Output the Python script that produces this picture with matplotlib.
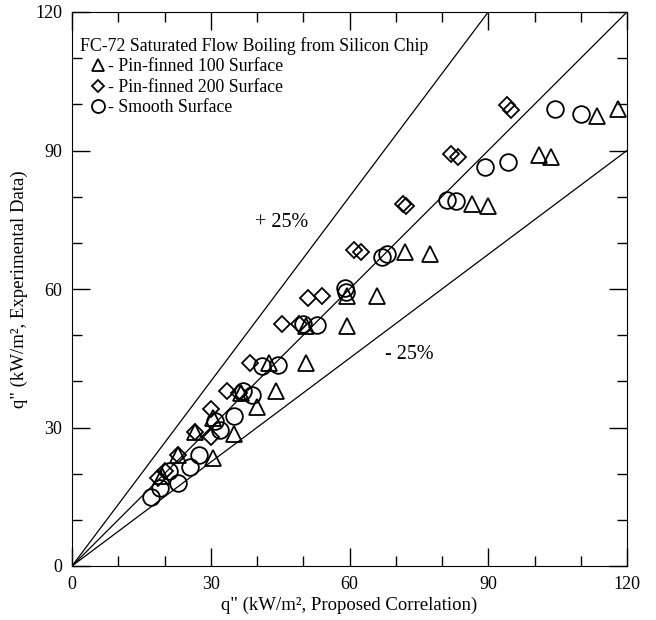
import numpy as np
import matplotlib
matplotlib.use("Agg")
import matplotlib.pyplot as plt

plt.rcParams["font.family"] = ["Liberation Serif", "DejaVu Serif"]

# Pin-finned 100 surface (triangles)
pf100_x = [19.5, 23, 26.5, 30.5, 30.5, 35, 36.5, 40, 42.5, 44, 50.5, 50.5, 59.5,
           59.5, 66, 72, 77.5, 86.5, 90, 101, 103.5, 113.5, 118]
pf100_y = [19.5, 24, 29, 23.5, 32, 28.5, 37.5, 34.5, 44, 38, 44, 52, 52,
           58.5, 58.5, 68, 67.5, 78.5, 78, 89, 88.5, 97.5, 99]

# Pin-finned 200 surface (diamonds)
pf200_x = [18.5, 20, 23, 26.5, 30, 30, 33.5, 36, 38.5, 45.5, 49, 51, 54,
           61, 62.5, 71.5, 72.3, 82, 83.5, 94, 95]
pf200_y = [19, 20.5, 24, 29, 28, 34, 38, 37.5, 44, 52.5, 52.5, 58, 58.5,
           68.5, 68, 78.5, 78, 89.3, 88.7, 99.8, 98.8]

# Smooth surface (circles)
smooth_x = [17, 19, 21, 23, 25.5, 27.5, 31, 32, 35, 37, 39, 41, 44.5, 50, 53,
            59, 59.3, 67, 68, 81, 83, 89.3, 94.3, 104.5, 110]
smooth_y = [15, 17, 20.5, 18, 21.5, 24, 31.5, 29.5, 32.5, 38, 37, 43.3, 43.5, 52.5, 52.2,
            60.3, 59.4, 67, 67.6, 79.3, 79, 86.4, 87.6, 99, 98]

ratio = [1.0, 1 / 0.75, 0.75]
xline = np.array([0, 120])

fig = plt.figure(figsize=(6.56, 6.2), dpi=100)
ax = fig.add_axes([72 / 656, 54 / 620, 555 / 656, 554 / 620])

for r in ratio:
    ax.plot(xline, xline * r, color="black", lw=0.9)

h1, = ax.plot(pf100_x, pf100_y, ls="none", marker="^", ms=11, mfc="none",
              mec="black", mew=1.3, label="- Pin-finned 100 Surface")
h2, = ax.plot(pf200_x, pf200_y, ls="none", marker="D", ms=8, mfc="none",
              mec="black", mew=1.3, label="- Pin-finned 200 Surface")
h3, = ax.plot(smooth_x, smooth_y, ls="none", marker="o", ms=12, mfc="none",
              mec="black", mew=1.3, label="- Smooth Surface")

ax.text(39.5, 74.3, "+ 25%", fontsize=14.5, va="center", ha="left")
ax.text(67.7, 45.9, "- 25%", fontsize=14.5, va="center", ha="left")

leg = ax.legend(handles=[h1, h2, h3], loc="upper left", bbox_to_anchor=(-0.0144, 0.984),
                title="FC-72 Saturated Flow Boiling from Silicon Chip",
                frameon=False, fontsize=12.8, title_fontsize=12.8,
                handlelength=2.0, handletextpad=-0.45, labelspacing=0.2,
                markerscale=0.78, alignment="left", borderaxespad=0.5)

ax.set_xlim(0, 120)
ax.set_ylim(0, 120)
ax.set_xticks(np.arange(0, 121, 30))
ax.set_yticks(np.arange(0, 121, 30))
ax.set_xticks(np.arange(0, 121, 10), minor=True)
ax.set_yticks(np.arange(0, 121, 10), minor=True)
ax.tick_params(which="both", direction="in", top=True, right=True, labelsize=13, pad=7)
ax.tick_params(which="major", length=13, width=1)
ax.tick_params(which="minor", length=7, width=1)

ax.set_xlabel('q" (kW/m\u00b2, Proposed Correlation)', fontsize=13.5, labelpad=3)
ax.set_ylabel('q" (kW/m\u00b2, Experimental Data)', fontsize=13.5, labelpad=5)

fig.savefig("out.png", dpi=100)
